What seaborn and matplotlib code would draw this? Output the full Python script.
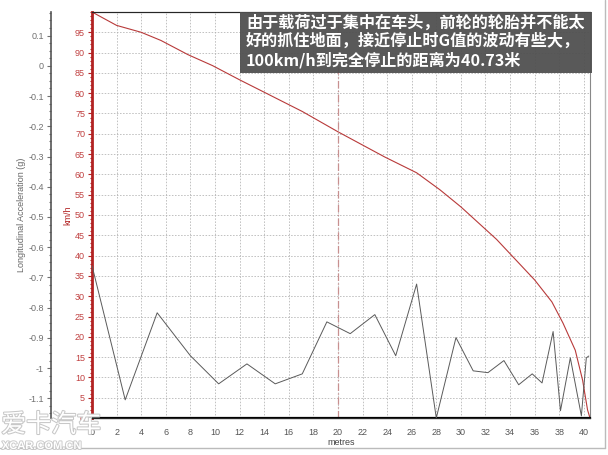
import numpy as np
import matplotlib
matplotlib.use("Agg")
import matplotlib.pyplot as plt
import matplotlib.patheffects as pe
from matplotlib.patches import Rectangle
from matplotlib.ticker import MultipleLocator
import seaborn as sns

sns.set_style("white")
plt.rcParams['font.family'] = ['Liberation Sans', 'Noto Sans CJK SC', 'DejaVu Sans']

# speed trace (km/h) vs distance (m)
dist_speed = [0, 2, 4, 5.6, 7.8, 9.8, 12, 13.9, 17.1, 20, 23.8, 26.4, 28.3, 30,
              32.9, 36, 37.4, 38.3, 39.3, 39.9, 40.3, 40.5]
speed = [100, 96.7, 95.0, 93, 89.5, 86.8, 83.3, 80.4, 75.5, 70.5, 64.3, 60.4, 56.2, 52,
         44, 34, 28.6, 23.4, 16.7, 9.3, 2, 0]

# longitudinal acceleration (g) vs distance (m)
dist_g = [0, 2.7, 5.3, 8.0, 10.3, 12.6, 14.9, 17.1, 19.1, 21.0, 23.0, 24.7, 26.4, 28.0,
          29.6, 31.0, 32.2, 33.5, 34.7, 35.8, 36.6, 37.5, 38.1, 38.9, 39.8, 40.2, 40.4]
g_val = [-0.661, -1.105, -0.817, -0.959, -1.052, -0.986, -1.052, -1.019, -0.847, -0.886,
         -0.823, -0.959, -0.722, -1.165, -0.899, -1.009, -1.015, -0.975, -1.055, -1.019,
         -1.049, -0.879, -1.141, -0.966, -1.158, -0.966, -0.96]

title_txt = "由于载荷过于集中在车头，前轮的轮胎并不能太\n好的抓住地面，接近停止时G值的波动有些大，\n100km/h到完全停止的距离为40.73米"

red = '#b22222'

fig = plt.figure(figsize=(6.08, 4.55), dpi=100)
ax = fig.add_axes([92/608, 1-418/455, 498/608, 406/455])
ax2 = ax.twinx()

# speed on main axis
sns.lineplot(x=dist_speed, y=speed, ax=ax, color='#b83a3a', lw=0.8, sort=False, estimator=None)
ax.set_xlim(0, 40.5)
ax.set_ylim(0, 100)
ax.xaxis.set_major_locator(MultipleLocator(2))
ax.xaxis.set_minor_locator(MultipleLocator(0.5))
ax.yaxis.set_major_locator(MultipleLocator(5))
ax.yaxis.set_minor_locator(MultipleLocator(1))
ax.set_yticks(np.arange(0, 100, 5))
ax.grid(True, which='major', linestyle=(0, (2, 2)), color='#b0b0b0', lw=0.55)
ax.axvline(20, color='#c89090', linestyle=(0, (6, 2, 1, 2)), lw=0.9)
ax.tick_params(axis='y', which='both', colors=red, labelsize=6.5, length=3, width=0.8, pad=2)
ax.tick_params(axis='y', which='minor', length=1.5)
ax.tick_params(axis='x', which='both', colors='#222222', labelsize=6.5, length=3, width=0.8, pad=4)
ax.tick_params(axis='x', which='minor', length=1.5)
ax.set_xlabel('metres', fontsize=6.5, color='#444444', labelpad=1)
ax.set_ylabel('km/h', fontsize=6.5, color=red)
ax.yaxis.set_label_coords(-20/498, 0.5)
for lab in ax.get_yticklabels():
    lab.set_color('#c04040')
for lab in ax.get_xticklabels():
    lab.set_color('#555555')
ax.spines['left'].set_color(red)
ax.spines['left'].set_linewidth(2)
ax.spines['bottom'].set_color('black')
ax.spines['bottom'].set_linewidth(1.6)
ax.spines['top'].set_color('#444444')
ax.spines['right'].set_color('#888888')

# acceleration on offset left axis
sns.lineplot(x=dist_g, y=g_val, ax=ax2, color='#5a5a5a', lw=0.7, sort=False, estimator=None)
ax2.set_ylim(-1.165, 0.178)
ax2.yaxis.tick_left()
ax2.yaxis.set_label_position('left')
ax2.spines['left'].set_visible(True)
ax2.spines['left'].set_position(('axes', -41/498))
ax2.spines['left'].set_color('#555555')
ax2.spines['left'].set_linewidth(1.2)
ax2.spines['right'].set_visible(False)
ax2.yaxis.set_minor_locator(MultipleLocator(0.025))
g_ticks = np.round(np.arange(-1.1, 0.15, 0.1), 1)
ax2.set_yticks(g_ticks)
ax2.set_yticklabels(['%g' % v for v in g_ticks])
ax2.tick_params(axis='y', which='both', colors='#707070', labelsize=6.5, length=3, width=0.8, pad=2)
ax2.tick_params(axis='y', which='minor', length=1.5)
ax2.set_ylabel('Longitudinal Acceleration (g)', fontsize=6.5, color='#666666')
ax2.yaxis.set_label_coords(-66/498, 0.5)

# caption box
fig.patches.append(Rectangle((240/608, 1-73/455), 352/608, 61/455, transform=fig.transFigure,
                             facecolor='#505050', edgecolor='none', alpha=0.95, zorder=5))
fig.text(246/608, 1-14/455, title_txt, color='white', fontsize=11.6, fontweight='bold',
         va='top', ha='left', linespacing=1.18,
         family=['Noto Sans CJK SC', 'DejaVu Sans'], zorder=6)

# frame lines and watermark
fig.add_artist(plt.Line2D([0, 605/608], [1-448/455, 1-448/455], transform=fig.transFigure,
                          color='#bbbbbb', lw=1))
fig.add_artist(plt.Line2D([605/608, 605/608], [1-448/455, 1], transform=fig.transFigure,
                          color='#bbbbbb', lw=1))
wm = fig.text(0.002, 1-438/455, '爱卡汽车', fontsize=18, color='white',
              family=['Noto Sans CJK SC'], va='bottom', ha='left')
wm.set_path_effects([pe.withStroke(linewidth=1.5, foreground='#c8c8c8')])
wm2 = fig.text(0.003, 1-451/455, 'XCAR.COM.CN', fontsize=8, color='white',
               fontweight='bold', va='bottom', ha='left')
wm2.set_path_effects([pe.withStroke(linewidth=1.3, foreground='#c8c8c8')])

fig.savefig('out.png', dpi=100)
